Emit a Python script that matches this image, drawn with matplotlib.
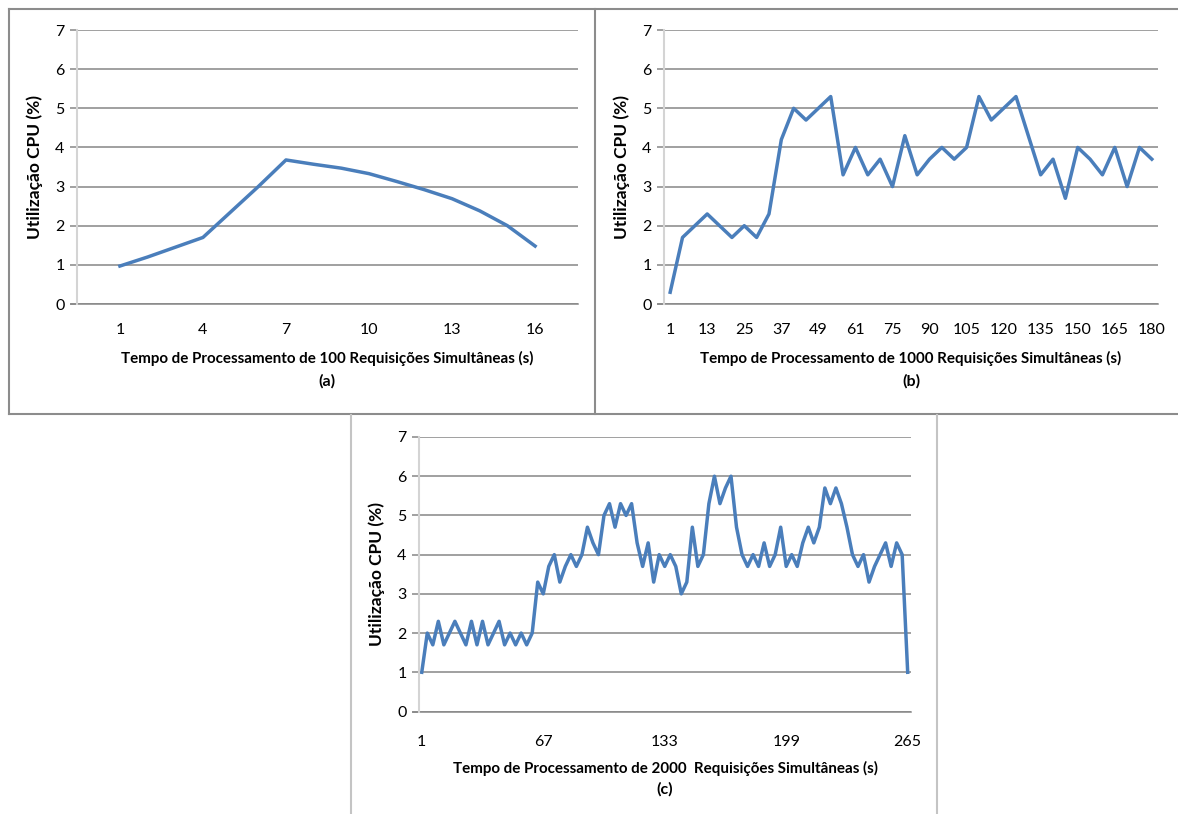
import matplotlib
matplotlib.use("Agg")
import matplotlib.pyplot as plt
from matplotlib.lines import Line2D

plt.rcParams['font.family'] = ['Lato', 'DejaVu Sans']

# (a) 100 requisicoes
a_x = list(range(1, 17))
a_cpu = [0.97, 1.2, 1.45, 1.7, 2.35, 3.0, 3.68, 3.57, 3.47, 3.33, 3.13, 2.92, 2.69, 2.38, 2.0, 1.48]
a_ticks = [1, 4, 7, 10, 13, 16]

# (b) 1000 requisicoes (eixo de categorias, rotulo a cada 3 pontos)
b_cpu = [0.3, 1.7, 2.0, 2.3, 2.0, 1.7, 2.0, 1.7, 2.3, 4.2,
         5.0, 4.7, 5.0, 5.3, 3.3, 4.0, 3.3, 3.7, 3.0, 4.3,
         3.3, 3.7, 4.0, 3.7, 4.0, 5.3, 4.7, 5.0, 5.3, 4.3,
         3.3, 3.7, 2.7, 4.0, 3.7, 3.3, 4.0, 3.0, 4.0, 3.7]
b_labels = ['1', '13', '25', '37', '49', '61', '75', '90', '105', '120', '135', '150', '165', '180']

# (c) 2000 requisicoes (rotulo a cada 22 pontos)
c_cpu = [1.0, 2.0, 1.7, 2.3, 1.7, 2.0, 2.3, 2.0, 1.7, 2.3,
         1.7, 2.3, 1.7, 2.0, 2.3, 1.7, 2.0, 1.7, 2.0, 1.7,
         2.0, 3.3, 3.0, 3.7, 4.0, 3.3, 3.7, 4.0, 3.7, 4.0,
         4.7, 4.3, 4.0, 5.0, 5.3, 4.7, 5.3, 5.0, 5.3, 4.3,
         3.7, 4.3, 3.3, 4.0, 3.7, 4.0, 3.7, 3.0, 3.3, 4.7,
         3.7, 4.0, 5.3, 6.0, 5.3, 5.7, 6.0, 4.7, 4.0, 3.7,
         4.0, 3.7, 4.3, 3.7, 4.0, 4.7, 3.7, 4.0, 3.7, 4.3,
         4.7, 4.3, 4.7, 5.7, 5.3, 5.7, 5.3, 4.7, 4.0, 3.7,
         4.0, 3.3, 3.7, 4.0, 4.3, 3.7, 4.3, 4.0, 1.0]
c_labels = ['1', '67', '133', '199', '265']

W, H = 1178, 814
fig = plt.figure(figsize=(W / 100, H / 100), dpi=100)
fig.patch.set_facecolor('white')

blue = '#4a7ebb'
grid = '#868686'


def px_axes(left, right, top, bottom):
    return fig.add_axes([left / W, 1 - bottom / H, (right - left) / W, (bottom - top) / H])


def style(ax):
    ax.set_ylim(0, 7)
    ax.set_yticks(range(8))
    ax.yaxis.grid(True, color=grid, lw=1.1)
    ax.set_axisbelow(True)
    for s in ['top', 'right', 'bottom']:
        ax.spines[s].set_visible(False)
    ax.spines['left'].set_color('#d4d4d4')
    ax.spines['left'].set_linewidth(1.5)
    ax.tick_params(axis='y', length=5, color=grid, width=1.1, labelsize=11.5, pad=4)
    ax.tick_params(axis='x', length=0, labelsize=11.5, pad=14)
    ax.axhline(0, color=grid, lw=1.1, xmin=-0.012, clip_on=False)
    ax.set_ylabel('Utilização CPU (%)', fontsize=12.5, fontweight='bold', labelpad=9)


def frame(x0, y0, x1, y1, color='#8c8c8c', lw=1.5):
    fig.add_artist(Line2D([x0 / W, x1 / W], [1 - y0 / H, 1 - y1 / H], color=color, lw=lw,
                          transform=fig.transFigure))


# (a)
ax1 = px_axes(77, 578, 30, 304)
ax1.plot(a_x, a_cpu, color=blue, lw=2.5)
ax1.set_xlim(-0.55, 17.55)
ax1.set_xticks(a_ticks)
style(ax1)
fig.text(327 / W, 1 - 358 / H, 'Tempo de Processamento de 100 Requisições Simultâneas (s)',
         ha='center', va='center', fontsize=10.9, fontweight='bold')
fig.text(327 / W, 1 - 381 / H, '(a)', ha='center', va='center', fontsize=11.5, fontweight='bold')

# (b)
ax2 = px_axes(664, 1158, 30, 304)
b_x = list(range(1, len(b_cpu) + 1))
ax2.plot(b_x, b_cpu, color=blue, lw=2.5)
ax2.set_xlim(0.5, 40.5)
ax2.set_xticks(b_x[::3])
ax2.set_xticklabels(b_labels)
style(ax2)
fig.text(911 / W, 1 - 358 / H, 'Tempo de Processamento de 1000 Requisições Simultâneas (s)',
         ha='center', va='center', fontsize=10.9, fontweight='bold')
fig.text(911 / W, 1 - 381 / H, '(b)', ha='center', va='center', fontsize=11.5, fontweight='bold')

# (c)
ax3 = px_axes(419, 911, 437, 711.5)
c_x = list(range(len(c_cpu)))
ax3.plot(c_x, c_cpu, color=blue, lw=2.5)
ax3.set_xlim(-0.5, 88.6)
ax3.set_xticks(c_x[::22])
ax3.set_xticklabels(c_labels)
style(ax3)
ax3.tick_params(axis='x', pad=17)
fig.text(665 / W, 1 - 768 / H, 'Tempo de Processamento de 2000  Requisições Simultâneas (s)',
         ha='center', va='center', fontsize=10.9, fontweight='bold')
fig.text(665 / W, 1 - 789 / H, '(c)', ha='center', va='center', fontsize=11.5, fontweight='bold')

# molduras
frame(9, 9, W, 9)
frame(9, 9, 9, 414)
frame(595, 9, 595, 414)
frame(9, 414, W, 414)
frame(351, 415, 351, H, color='#c4c4c4')
frame(937, 415, 937, H, color='#c4c4c4')

fig.savefig('out.png', dpi=100, facecolor='white')
